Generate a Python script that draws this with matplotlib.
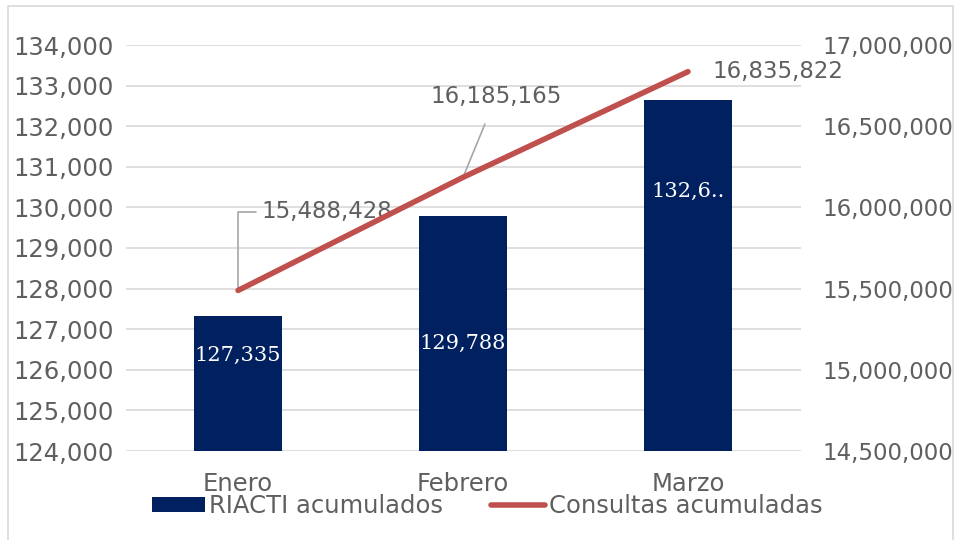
import matplotlib
matplotlib.use("Agg")
import matplotlib.pyplot as plt
from matplotlib.patches import Rectangle
from matplotlib.ticker import FuncFormatter

# Data
months = ["Enero", "Febrero", "Marzo"]
riacti = [127335, 129788, 132650]
consultas = [15488428, 16185165, 16835822]
bar_txt = ["127,335", "129,788", "132,6.."]
bar_txt_y = [126350, 126650, 130400]   # where the white labels sit

GREY = "#5F5F5F"
NAVY = "#002060"
RED = "#C0504D"
FS = 16.5
plt.rcParams['font.family'] = ['DejaVu Sans']

fig = plt.figure(figsize=(9.55, 5.4), dpi=100)
ax = fig.add_axes([125.5 / 955, 1 - 451 / 540, 675 / 955, 406 / 540])
ax2 = ax.twinx()

x = range(len(months))
bars = ax.bar(x, riacti, width=0.39, color=NAVY, label="RIACTI acumulados", zorder=3)
ax.set_ylim(124000, 134000)
ax.set_yticks(range(124000, 134001, 1000))
ax.set_xlim(-0.5, 2.5)
ax.set_xticks(list(x))
ax.set_xticklabels(months)
ax.grid(axis="y", color="#D9D9D9", linewidth=1.2, zorder=0)
ax.set_axisbelow(True)

ln, = ax2.plot(x, consultas, color=RED, linewidth=4, solid_capstyle="round",
               label="Consultas acumuladas", zorder=4)
ax2.set_ylim(14500000, 17000000)
ax2.set_yticks(range(14500000, 17000001, 500000))

fmt = FuncFormatter(lambda v, p: f"{int(v):,}")
ax.yaxis.set_major_formatter(fmt)
ax2.yaxis.set_major_formatter(fmt)

for a in (ax, ax2):
    for s in a.spines.values():
        s.set_visible(False)
    a.tick_params(length=0, labelsize=FS, labelcolor=GREY)
ax.tick_params(axis="y", pad=8.5, labelsize=17.5)
ax.tick_params(axis="x", pad=15, labelsize=17.5)
ax2.tick_params(axis="y", pad=16)

# bar labels (white, serif)
for i, b in enumerate(bars):
    ax.text(b.get_x() + b.get_width() / 2, bar_txt_y[i], bar_txt[i],
            ha="center", va="center", color="white", fontsize=15,
            family="DejaVu Serif", zorder=5)

# line labels with leader lines
ax2.annotate(f"{consultas[0]:,}", xy=(0, consultas[0]), xytext=(0.105, 15972000),
             ha="left", va="center", fontsize=FS, color=GREY,
             arrowprops=dict(arrowstyle="-", color="#A6A6A6", lw=1.2,
                             connectionstyle="angle,angleA=0,angleB=90,rad=0",
                             shrinkA=0, shrinkB=0, relpos=(-0.04, 0.5)))
ax2.annotate(f"{consultas[1]:,}", xy=(1, consultas[1]), xytext=(1.147, 16680000),
             ha="center", va="center", fontsize=FS, color=GREY,
             arrowprops=dict(arrowstyle="-", color="#A6A6A6", lw=1.2,
                             shrinkA=10, shrinkB=0))
ax2.text(2.11, consultas[2], f"{consultas[2]:,}", ha="left", va="center",
         fontsize=FS, color=GREY)

fig.legend([bars, ln], ["RIACTI acumulados", "Consultas acumuladas"],
           loc="center", bbox_to_anchor=(487 / 955, 1 - 506 / 540), ncol=2,
           frameon=False, fontsize=17.5, labelcolor=GREY, handlelength=2.2,
           handleheight=0.6, handletextpad=0.15, columnspacing=2.0)

fig.patches.append(Rectangle((8 / 955, -0.02), 945 / 955, 1 - 6 / 540 + 0.02,
                             transform=fig.transFigure, fill=False,
                             edgecolor="#D9D9D9", linewidth=1.2))

fig.savefig("out.png", dpi=100)
